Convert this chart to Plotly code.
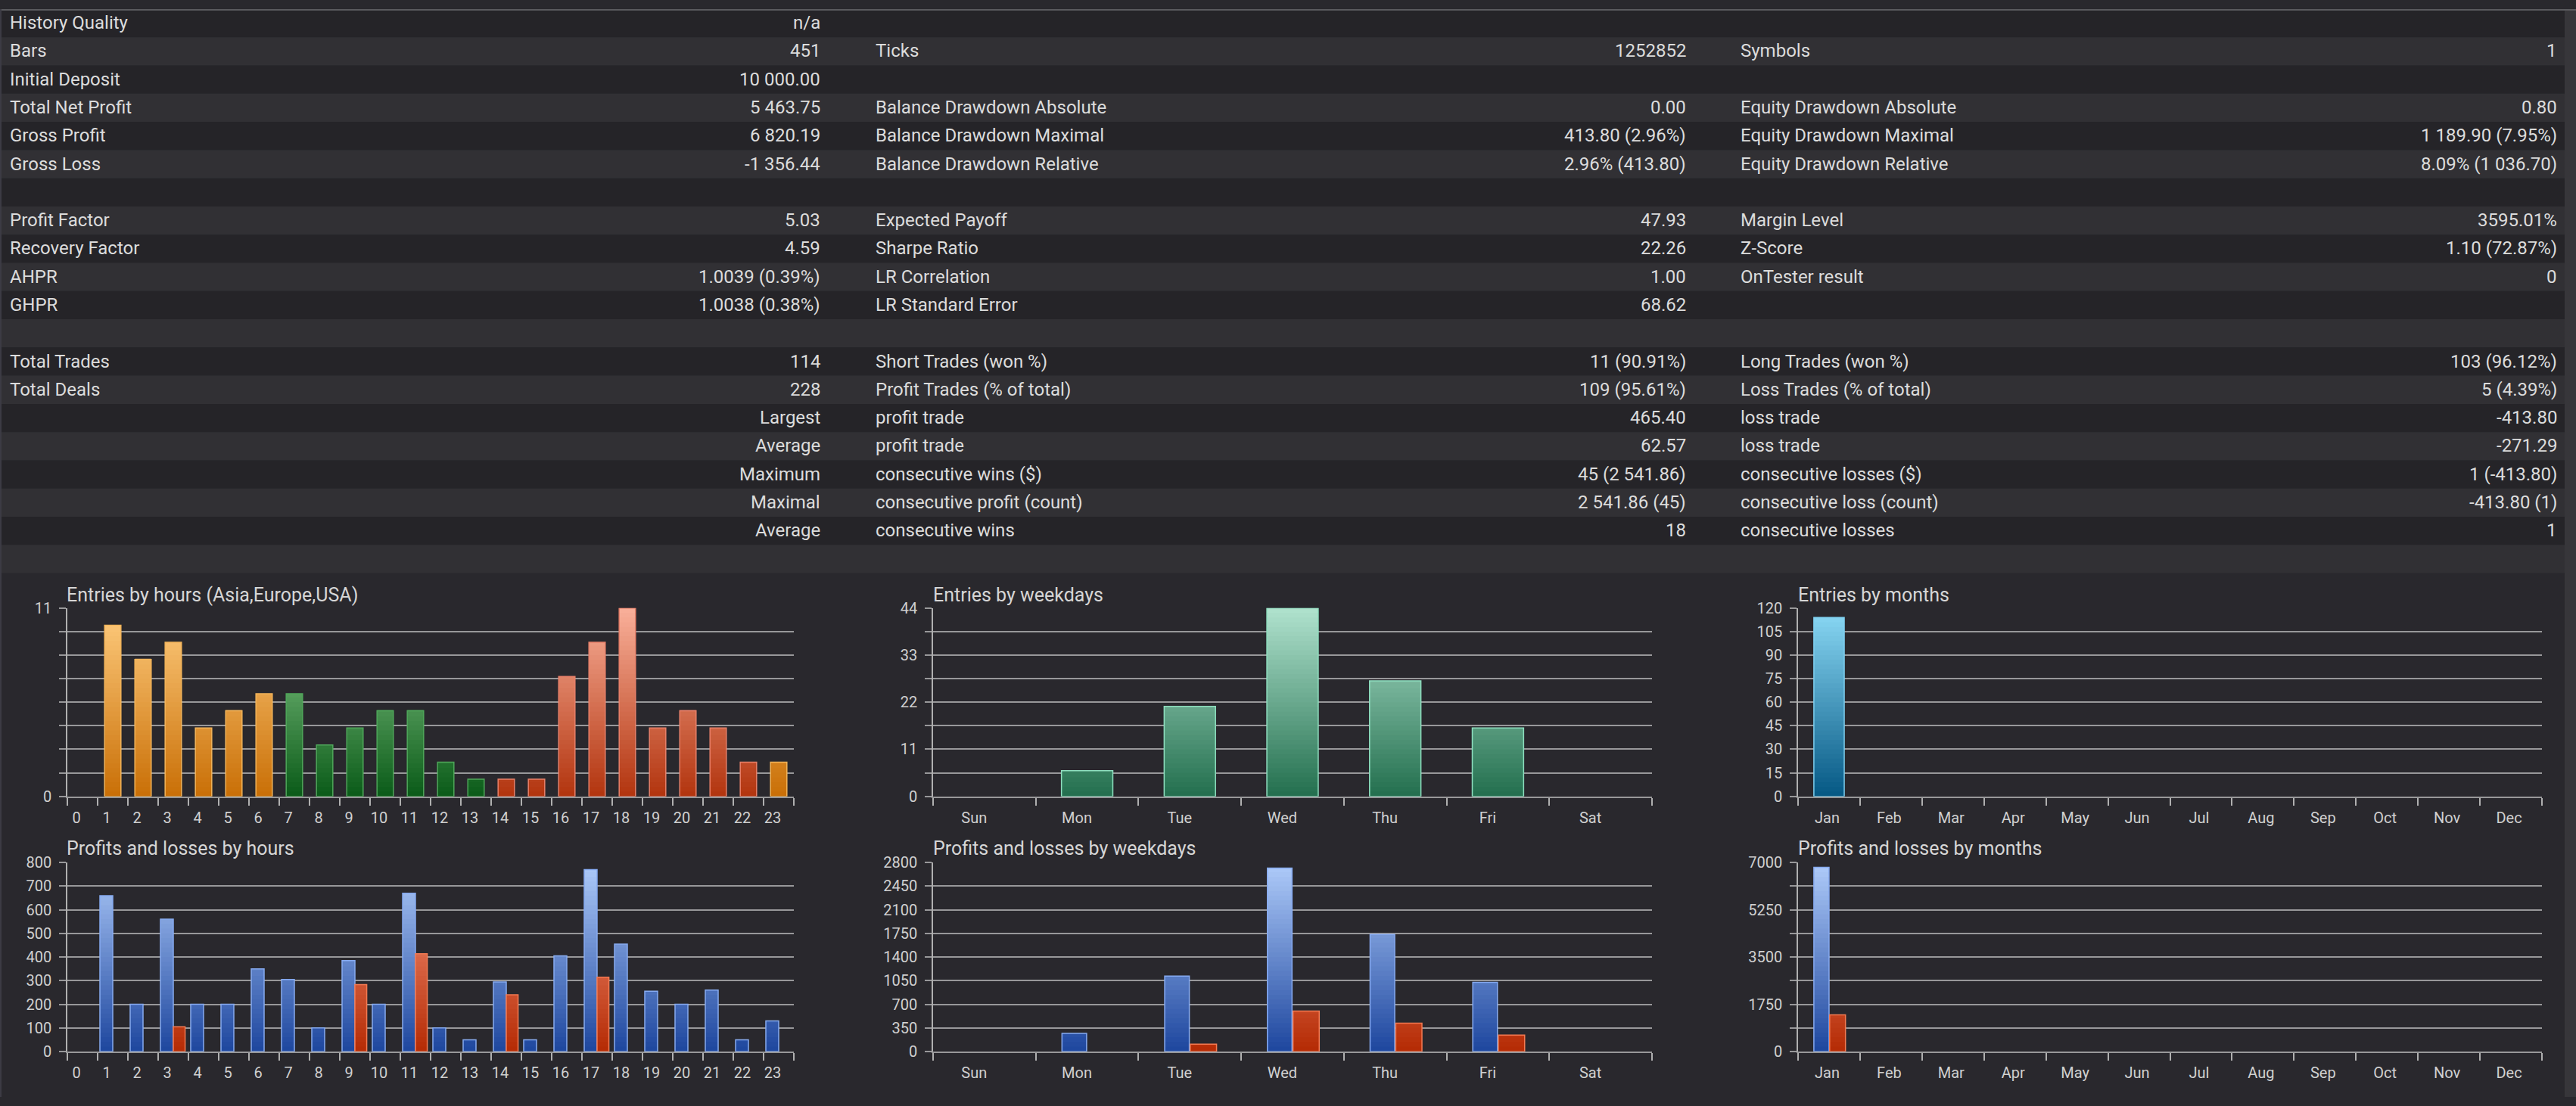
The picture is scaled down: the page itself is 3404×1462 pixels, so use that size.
import plotly.graph_objects as go

W, H = 3404, 1462
FONT = "Roboto, 'Open Sans', sans-serif"

# ---------------- table data ----------------
col1_labels = ["History Quality", "Bars", "Initial Deposit", "Total Net Profit", "Gross Profit", "Gross Loss", "",
               "Profit Factor", "Recovery Factor", "AHPR", "GHPR", "", "Total Trades", "Total Deals",
               "", "", "", "", "", ""]
col1_values = ["n/a", "451", "10 000.00", "5 463.75", "6 820.19", "-1 356.44", "",
               "5.03", "4.59", "1.0039 (0.39%)", "1.0038 (0.38%)", "", "114", "228",
               "Largest", "Average", "Maximum", "Maximal", "Average", ""]
col2_labels = ["", "Ticks", "", "Balance Drawdown Absolute", "Balance Drawdown Maximal", "Balance Drawdown Relative", "",
               "Expected Payoff", "Sharpe Ratio", "LR Correlation", "LR Standard Error", "",
               "Short Trades (won %)", "Profit Trades (% of total)", "profit trade", "profit trade",
               "consecutive wins ($)", "consecutive profit (count)", "consecutive wins", ""]
col2_values = ["", "1252852", "", "0.00", "413.80 (2.96%)", "2.96% (413.80)", "",
               "47.93", "22.26", "1.00", "68.62", "",
               "11 (90.91%)", "109 (95.61%)", "465.40", "62.57", "45 (2 541.86)", "2 541.86 (45)", "18", ""]
col3_labels = ["", "Symbols", "", "Equity Drawdown Absolute", "Equity Drawdown Maximal", "Equity Drawdown Relative", "",
               "Margin Level", "Z-Score", "OnTester result", "", "",
               "Long Trades (won %)", "Loss Trades (% of total)", "loss trade", "loss trade",
               "consecutive losses ($)", "consecutive loss (count)", "consecutive losses", ""]
col3_values = ["", "1", "", "0.80", "1 189.90 (7.95%)", "8.09% (1 036.70)", "",
               "3595.01%", "1.10 (72.87%)", "0", "", "",
               "103 (96.12%)", "5 (4.39%)", "-413.80", "-271.29", "1 (-413.80)", "-413.80 (1)", "1", ""]

# ---------------- chart data ----------------
hour_labels = ["0", "1", "2", "3", "4", "5", "6", "7", "8", "9", "10", "11", "12", "13", "14", "15",
               "16", "17", "18", "19", "20", "21", "22", "23"]
hour_session = ["Asia", "Asia", "Asia", "Asia", "Asia", "Asia", "Asia",
                "Europe", "Europe", "Europe", "Europe", "Europe", "Europe", "Europe",
                "USA", "USA", "USA", "USA", "USA", "USA", "USA", "USA", "USA", "Asia"]
hour_entries = [0, 10, 8, 9, 4, 5, 6, 6, 3, 4, 5, 5, 2, 1, 1, 1, 7, 9, 11, 4, 5, 4, 2, 2]
hour_profit = [0, 660, 200, 560, 200, 200, 350, 305, 100, 385, 200, 670, 100, 50, 295, 50,
               405, 770, 455, 255, 200, 260, 50, 130]
hour_loss = [0, 0, 0, 105, 0, 0, 0, 0, 0, 283, 0, 413.8, 0, 0, 240, 0, 0, 315, 0, 0, 0, 0, 0, 0]

weekday_labels = ["Sun", "Mon", "Tue", "Wed", "Thu", "Fri", "Sat"]
weekday_entries = [0, 6, 21, 44, 27, 16, 0]
weekday_profit = [0, 268, 1117, 2719, 1734, 1025, 0]
weekday_loss = [0, 0, 110, 600, 420, 245, 0]

month_labels = ["Jan", "Feb", "Mar", "Apr", "May", "Jun", "Jul", "Aug", "Sep", "Oct", "Nov", "Dec"]
month_entries = [114, 0, 0, 0, 0, 0, 0, 0, 0, 0, 0, 0]
month_profit = [6820.19, 0, 0, 0, 0, 0, 0, 0, 0, 0, 0, 0]
month_loss = [1356.44, 0, 0, 0, 0, 0, 0, 0, 0, 0, 0, 0]

# y tick values / labels
hours_entry_ticks = [0, 1.375, 2.75, 4.125, 5.5, 6.875, 8.25, 9.625, 11]
hours_entry_text = ["0", "", "", "", "", "", "", "", "11"]
hours_pl_ticks = [0, 100, 200, 300, 400, 500, 600, 700, 800]
hours_pl_text = ["0", "100", "200", "300", "400", "500", "600", "700", "800"]
wd_entry_ticks = [0, 5.5, 11, 16.5, 22, 27.5, 33, 38.5, 44]
wd_entry_text = ["0", "", "11", "", "22", "", "33", "", "44"]
wd_pl_ticks = [0, 350, 700, 1050, 1400, 1750, 2100, 2450, 2800]
wd_pl_text = ["0", "350", "700", "1050", "1400", "1750", "2100", "2450", "2800"]
mo_entry_ticks = [0, 15, 30, 45, 60, 75, 90, 105, 120]
mo_entry_text = ["0", "15", "30", "45", "60", "75", "90", "105", "120"]
mo_pl_ticks = [0, 875, 1750, 2625, 3500, 4375, 5250, 6125, 7000]
mo_pl_text = ["0", "", "1750", "", "3500", "", "5250", "", "7000"]

# ---------------- styling ----------------
BG = "#29282d"
ROW_DARK = "#252428"
ROW_LIGHT = "#313034"
TXT = "#dcdcdc"
GRID = "#98989a"
AXIS = "#b0b0b0"
TICKTXT = "#d0d0d0"

SESSION_COLORS = {  # bottom, top, outline
    "Asia": ("#c96f06", "#ffcd80", "#f2b45a"),
    "Europe": ("#0a5a18", "#93d493", "#4fa65a"),
    "USA": ("#b2340e", "#f9b09a", "#e8806a"),
}
PROFIT_C = ("#1d469e", "#b0ccfa", "#86aaf0")
LOSS_C = ("#b42a04", "#ffa48a", "#f37a52")
TEAL_C = ("#236f4e", "#b0e2ce", "#8fe0c0")
CYAN_C = ("#055884", "#8cdaf6", "#7fd0f0")


def hex2rgb(h):
    h = h.lstrip("#")
    return [int(h[i:i + 2], 16) for i in (0, 2, 4)]


def mix(c1, c2, t):
    a, b = hex2rgb(c1), hex2rgb(c2)
    return "rgb(%d,%d,%d)" % tuple(round(a[i] + (b[i] - a[i]) * t) for i in range(3))


fig = go.Figure()


def gradient_bars(idx, values, bottoms, tops, lines, ymax, offset, width, n=40):
    suf = "" if idx == 1 else str(idx)
    xs = list(range(len(values)))
    h = ymax / n
    for k in range(n):
        lo = k * h
        cap = lo + 1.4 * h
        heights = [max(0.0, min(v, cap) - lo) for v in values]
        if not any(heights):
            continue
        t = (k + 0.5) / n
        cols = [mix(b, tp, t) for b, tp in zip(bottoms, tops)]
        fig.add_trace(go.Bar(
            x=xs, y=[v if v > 0 else None for v in heights], base=[lo] * len(xs),
            offset=offset, width=width,
            marker=dict(color=cols, line=dict(width=0)),
            xaxis="x" + suf, yaxis="y" + suf, hoverinfo="skip", showlegend=False))
    fig.add_trace(go.Bar(
        x=xs, y=[v if v > 0 else None for v in values], offset=offset, width=width,
        marker=dict(color="rgba(0,0,0,0)", line=dict(color=lines, width=1.5)),
        xaxis="x" + suf, yaxis="y" + suf, hoverinfo="skip", showlegend=False))


# chart 1: entries by hours (colored by session)
gradient_bars(1, hour_entries,
              [SESSION_COLORS[s][0] for s in hour_session],
              [SESSION_COLORS[s][1] for s in hour_session],
              [SESSION_COLORS[s][2] for s in hour_session],
              11, -0.27, 0.54)
# chart 2: profits/losses by hours
nh = len(hour_labels)
gradient_bars(2, hour_profit, [PROFIT_C[0]] * nh, [PROFIT_C[1]] * nh, PROFIT_C[2], 800, -0.425, 0.425)
gradient_bars(2, hour_loss, [LOSS_C[0]] * nh, [LOSS_C[1]] * nh, LOSS_C[2], 800, 0.0, 0.39)
# chart 3: entries by weekdays
nw = len(weekday_labels)
gradient_bars(3, weekday_entries, [TEAL_C[0]] * nw, [TEAL_C[1]] * nw, TEAL_C[2], 44, -0.25, 0.5)
# chart 4: profits/losses by weekdays
gradient_bars(4, weekday_profit, [PROFIT_C[0]] * nw, [PROFIT_C[1]] * nw, PROFIT_C[2], 2800, -0.245, 0.24)
gradient_bars(4, weekday_loss, [LOSS_C[0]] * nw, [LOSS_C[1]] * nw, LOSS_C[2], 2800, 0.005, 0.255)
# chart 5: entries by months
nm = len(month_labels)
gradient_bars(5, month_entries, [CYAN_C[0]] * nm, [CYAN_C[1]] * nm, CYAN_C[2], 120, -0.245, 0.49)
# chart 6: profits/losses by months
gradient_bars(6, month_profit, [PROFIT_C[0]] * nm, [PROFIT_C[1]] * nm, PROFIT_C[2], 7000, -0.245, 0.245)
gradient_bars(6, month_loss, [LOSS_C[0]] * nm, [LOSS_C[1]] * nm, LOSS_C[2], 7000, 0.01, 0.255)

charts = [
    # idx, categories, x pixels, y pixels (top, bottom), ymax, yticks, ytext, label shift, title, title pos
    (1, hour_labels, (89, 1049), (805, 1058), 11, hours_entry_ticks, hours_entry_text, -0.2,
     "Entries by hours (Asia,Europe,USA)", (86, 787)),
    (2, hour_labels, (89, 1049), (1147, 1401), 800, hours_pl_ticks, hours_pl_text, -0.2,
     "Profits and losses by hours", (86, 1128)),
    (3, weekday_labels, (1233, 2183), (805, 1058), 44, wd_entry_ticks, wd_entry_text, -0.1,
     "Entries by weekdays", (1231, 787)),
    (4, weekday_labels, (1233, 2183), (1147, 1401), 2800, wd_pl_ticks, wd_pl_text, -0.1,
     "Profits and losses by weekdays", (1231, 1128)),
    (5, month_labels, (2376, 3359), (805, 1058), 120, mo_entry_ticks, mo_entry_text, -0.03,
     "Entries by months", (2374, 787)),
    (6, month_labels, (2376, 3359), (1147, 1401), 7000, mo_pl_ticks, mo_pl_text, -0.03,
     "Profits and losses by months", (2374, 1128)),
]

layout_axes = {}
annotations = []
for idx, cats, xpx, ypx, ymax, yt, ytt, shift, title, tpos in charts:
    suf = "" if idx == 1 else str(idx)
    n = len(cats)
    layout_axes["xaxis" + suf] = dict(
        domain=[xpx[0] / W, xpx[1] / W], range=[-0.5, n - 0.5], anchor="y" + suf,
        tickmode="array", tickvals=[i + shift for i in range(n)], ticktext=cats,
        ticks="", showgrid=False, zeroline=False, showline=True, linecolor=GRID, linewidth=2,
        tickfont=dict(family=FONT, size=20, color=TICKTXT), ticklabelstandoff=9,
        minor=dict(tickmode="array", tickvals=[i - 0.5 for i in range(n + 1)], ticks="outside",
                   ticklen=10, tickwidth=1.5, tickcolor=AXIS, showgrid=False),
        fixedrange=True)
    layout_axes["yaxis" + suf] = dict(
        domain=[1 - ypx[1] / H, 1 - ypx[0] / H], range=[0, ymax], anchor="x" + suf,
        tickmode="array", tickvals=yt, ticktext=ytt,
        ticks="outside", ticklen=9, tickwidth=2, tickcolor=GRID,
        showgrid=True, gridcolor=GRID, gridwidth=2, zeroline=False,
        showline=True, linecolor=AXIS, linewidth=1.5,
        tickfont=dict(family=FONT, size=20, color=TICKTXT), ticklabelstandoff=6,
        fixedrange=True)
    annotations.append(dict(text=title, x=tpos[0] / W, y=1 - tpos[1] / H, xref="paper", yref="paper",
                            xanchor="left", yanchor="middle", showarrow=False,
                            font=dict(family=FONT, size=25, color="#d6d6d6")))

# table
ROW_H = 37.9
shapes = []
for i in range(20):
    shapes.append(dict(type="rect", xref="paper", yref="paper", layer="below",
                       x0=0, x1=3389 / W, y0=1 - (i + 1) * ROW_H / H, y1=1 - i * ROW_H / H,
                       fillcolor=ROW_LIGHT if i % 2 else ROW_DARK, line=dict(width=0)))
shapes.append(dict(type="rect", xref="paper", yref="paper", layer="below",
                   x0=3389 / W, x1=1, y0=0, y1=1, fillcolor="#37363a", line=dict(width=0)))
shapes.append(dict(type="line", xref="paper", yref="paper", x0=0, x1=1, y0=1 - 1 / H, y1=1 - 1 / H,
                   line=dict(color="#5a5a5e", width=2)))
shapes.append(dict(type="line", xref="paper", yref="paper", x0=1 / W, x1=1 / W, y0=0, y1=1,
                   line=dict(color="#3c3b44", width=2)))

cols = [
    (col1_labels, 11, "left"), (col1_values, 1086, "right"),
    (col2_labels, 1155, "left"), (col2_values, 2230, "right"),
    (col3_labels, 2298, "left"), (col3_values, 3381, "right"),
]
for texts, xp, anchor in cols:
    for i, t in enumerate(texts):
        if not t:
            continue
        annotations.append(dict(text=t, x=xp / W, y=1 - (18.5 + ROW_H * i) / H, xref="paper", yref="paper",
                                xanchor=anchor, yanchor="middle", showarrow=False,
                                font=dict(family=FONT, size=24, color=TXT)))

fig.update_layout(
    width=W, height=H, margin=dict(l=0, r=0, t=0, b=0),
    paper_bgcolor=BG, plot_bgcolor="rgba(0,0,0,0)",
    barmode="overlay", showlegend=False,
    shapes=shapes, annotations=annotations,
    font=dict(family=FONT, color=TXT),
    **layout_axes)

fig.write_html("out.html", config={"displayModeBar": False})
